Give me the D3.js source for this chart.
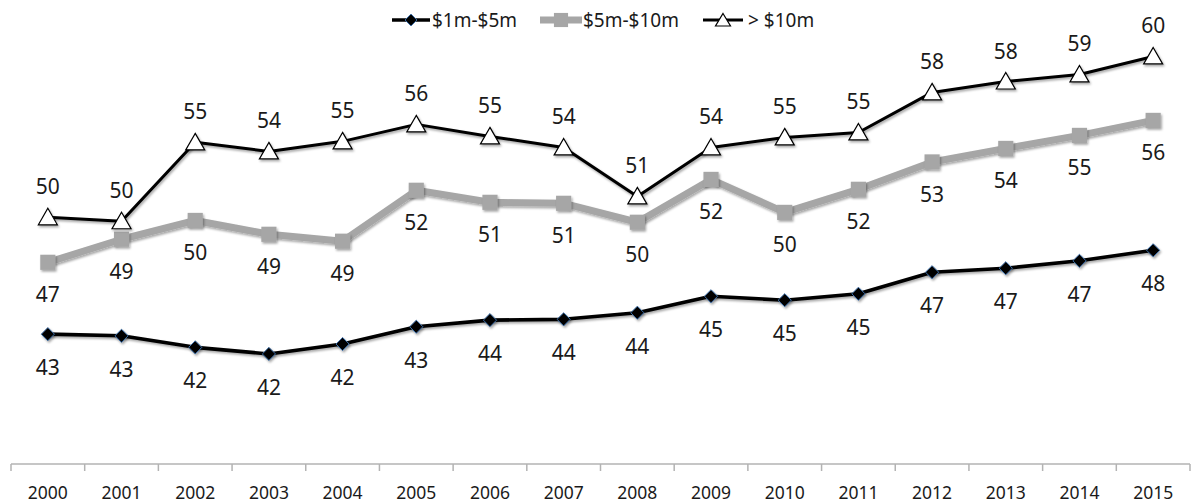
<!DOCTYPE html>
<html>
<head>
<meta charset="utf-8">
<script src="https://cdn.jsdelivr.net/npm/d3@7"></script>
<style>
  html, body { margin: 0; padding: 0; background: #ffffff; }
  svg { display: block; }
  text { font-family: "Noto Sans", "Open Sans", sans-serif; fill: #1a1a1a; }
</style>
</head>
<body>
<svg id="chart" width="1195" height="503"></svg>
<script>
// Years on the category axis
const years = ["2000","2001","2002","2003","2004","2005","2006","2007",
               "2008","2009","2010","2011","2012","2013","2014","2015"];

// Series values by year
const small = [43.0, 42.9, 42.2, 41.8, 42.4, 43.45, 43.85, 43.9,
               44.3, 45.3, 45.06, 45.45, 46.76, 47.0, 47.45, 48.09];
const mid   = [47.36, 48.76, 49.9, 49.06, 48.64, 51.73, 51.0, 50.94,
               49.79, 52.39, 50.39, 51.79, 53.45, 54.27, 55.06, 55.97];
const large = [50.09, 49.85, 54.64, 54.09, 54.7, 55.73, 55.0, 54.33,
               51.36, 54.33, 54.94, 55.24, 57.67, 58.33, 58.76, 59.85];

const seriesNames = ["$1m-$5m", "$5m-$10m", "> $10m"];

const svg = d3.select("#chart");
const axisY = 464;

const defs = svg.append("defs");
const shadow = defs.append("filter").attr("id", "shadow")
  .attr("x", "-30%").attr("y", "-30%").attr("width", "160%").attr("height", "160%");
shadow.append("feDropShadow")
  .attr("dx", 1.2).attr("dy", 1.8).attr("stdDeviation", 1.2)
  .attr("flood-color", "#000").attr("flood-opacity", 0.35);

const x = d3.scaleBand().domain(years).range([11, 1190]).padding(0);
const y = d3.scaleLinear().domain([35, 60]).range([466, 54]);
const cx = d => x(d) + x.bandwidth() / 2;

// Category axis: tick marks sit between categories
const axisG = svg.append("g").attr("transform", `translate(0,${axisY})`);
axisG.append("line")
  .attr("x1", x.range()[0]).attr("x2", x.range()[1])
  .attr("y1", 0).attr("y2", 0)
  .attr("stroke", "#b3b3b3").attr("stroke-width", 1.5);
const bounds = years.map(d => x(d)).concat([x.range()[1]]);
axisG.selectAll("line.tick").data(bounds).join("line")
  .attr("class", "tick")
  .attr("x1", d => d).attr("x2", d => d)
  .attr("y1", 0).attr("y2", 7)
  .attr("stroke", "#b3b3b3").attr("stroke-width", 1.5);
axisG.selectAll("text").data(years).join("text")
  .attr("x", d => cx(d)).attr("y", 35)
  .attr("text-anchor", "middle")
  .style("font-size", "17.5px")
  .text(d => d);

const series = [
  { name: seriesNames[0], values: small, color: "#000000", width: 3.6, marker: "diamond", labelDy: 33 },
  { name: seriesNames[1], values: mid,   color: "#a6a6a6", width: 7,   marker: "square",  labelDy: 32 },
  { name: seriesNames[2], values: large, color: "#000000", width: 3,   marker: "triangle", labelDy: -31 }
];

const line = d3.line().x((d, i) => cx(years[i])).y(d => y(d));

function drawMarker(g, type, legend) {
  if (type === "diamond") {
    g.append("path")
      .attr("d", d3.symbol(d3.symbolDiamond2, legend ? 90 : 110)())
      .attr("fill", "#000").attr("stroke", "#3d6fa8").attr("stroke-width", 1);
  } else if (type === "square") {
    g.append("path")
      .attr("d", d3.symbol(d3.symbolSquare, legend ? 200 : 230)())
      .attr("fill", "#a6a6a6");
  } else {
    g.append("path")
      .attr("d", legend ? "M0,-6.5L7.5,6L-7.5,6Z" : "M0,-9L9.5,7.5L-9.5,7.5Z")
      .attr("fill", "#ffffff").attr("stroke", "#000").attr("stroke-width", 1.2);
  }
}

const plot = svg.append("g");
series.forEach(s => {
  const g = plot.append("g");
  g.append("path").datum(s.values)
    .attr("d", line)
    .attr("fill", "none").attr("stroke", s.color)
    .attr("stroke-width", s.width).attr("stroke-linejoin", "round")
    .attr("filter", "url(#shadow)");
  s.values.forEach((v, i) => {
    const m = g.append("g")
      .attr("transform", `translate(${cx(years[i])},${y(v)})`)
      .attr("filter", "url(#shadow)");
    drawMarker(m, s.marker, false);
  });
  g.selectAll("text.val").data(s.values).join("text")
    .attr("class", "val")
    .attr("x", (d, i) => cx(years[i]))
    .attr("y", d => y(d) + s.labelDy)
    .attr("text-anchor", "middle").attr("dominant-baseline", "central")
    .style("font-size", "21px")
    .text(d => d3.format(".0f")(d));
});

// Legend
const legendItems = [
  { x0: 392, x1: 430, tx: 432 },
  { x0: 540, x1: 582, tx: 583 },
  { x0: 703, x1: 743, tx: 748 }
];
const legend = svg.append("g").attr("transform", "translate(0,20)");
series.forEach((s, i) => {
  const it = legendItems[i];
  const g = legend.append("g");
  g.append("line")
    .attr("x1", it.x0).attr("x2", it.x1).attr("y1", 0).attr("y2", 0)
    .attr("stroke", s.color).attr("stroke-width", s.width);
  const m = g.append("g").attr("transform", `translate(${(it.x0 + it.x1) / 2},0)`);
  drawMarker(m, s.marker, true);
  g.append("text")
    .attr("x", it.tx).attr("y", 0)
    .attr("dominant-baseline", "central")
    .style("font-size", "19px")
    .text(s.name);
});
</script>
</body>
</html>
